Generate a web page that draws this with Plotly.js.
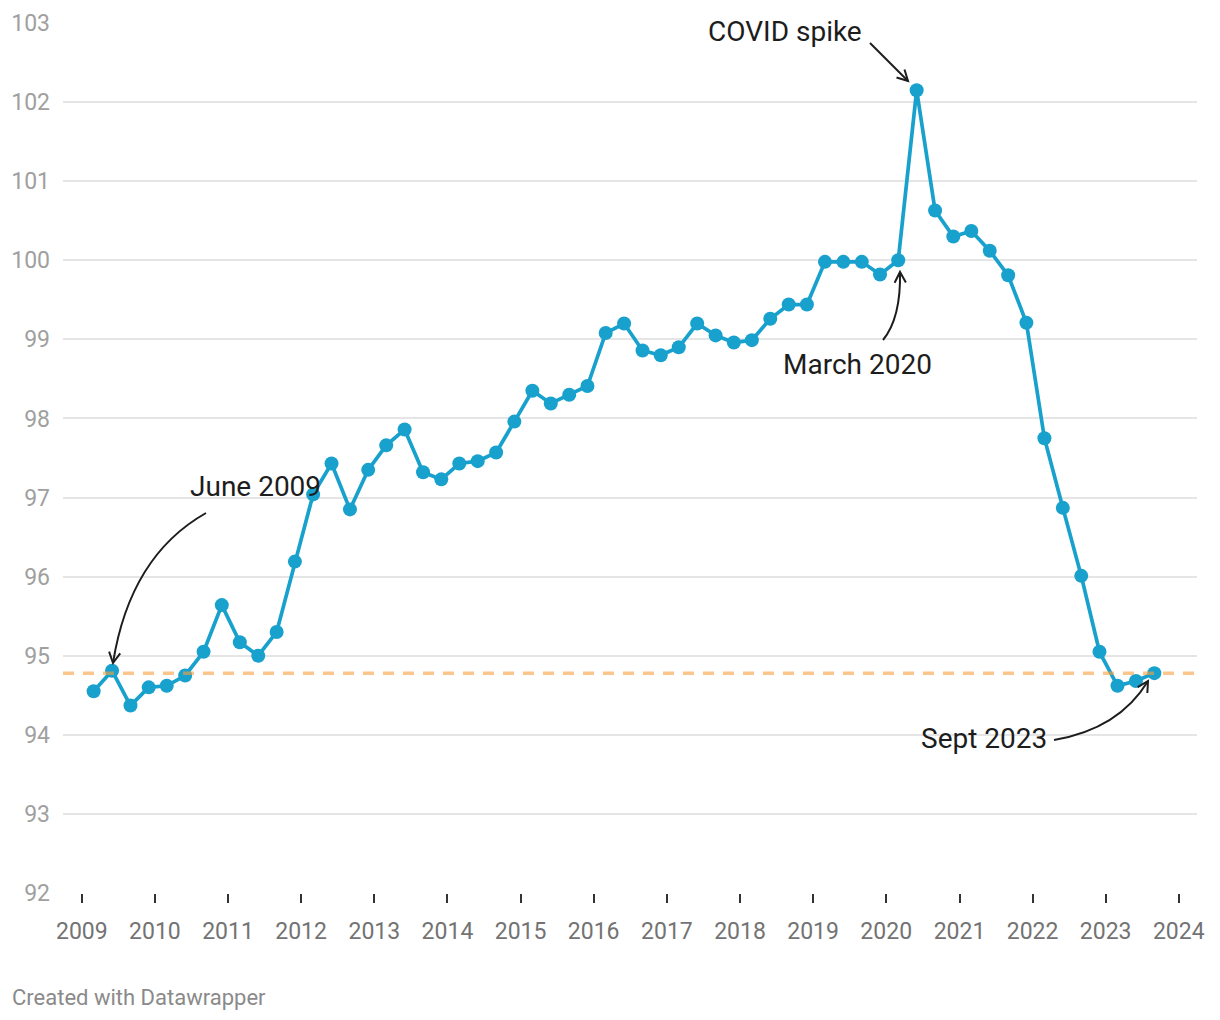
<!DOCTYPE html>
<html><head><meta charset="utf-8">
<script src="https://cdn.plot.ly/plotly-3.0.1.min.js"></script>
<style>html,body{margin:0;padding:0;background:#fff}#chart{width:1220px;height:1020px}</style>
</head><body><div id="chart"></div>
<script>
// ---- Data ----
const quarterDates = [
  '2009-03-01','2009-06-01','2009-09-01','2009-12-01',
  '2010-03-01','2010-06-01','2010-09-01','2010-12-01',
  '2011-03-01','2011-06-01','2011-09-01','2011-12-01',
  '2012-03-01','2012-06-01','2012-09-01','2012-12-01',
  '2013-03-01','2013-06-01','2013-09-01','2013-12-01',
  '2014-03-01','2014-06-01','2014-09-01','2014-12-01',
  '2015-03-01','2015-06-01','2015-09-01','2015-12-01',
  '2016-03-01','2016-06-01','2016-09-01','2016-12-01',
  '2017-03-01','2017-06-01','2017-09-01','2017-12-01',
  '2018-03-01','2018-06-01','2018-09-01','2018-12-01',
  '2019-03-01','2019-06-01','2019-09-01','2019-12-01',
  '2020-03-01','2020-06-01','2020-09-01','2020-12-01',
  '2021-03-01','2021-06-01','2021-09-01','2021-12-01',
  '2022-03-01','2022-06-01','2022-09-01','2022-12-01',
  '2023-03-01','2023-06-01','2023-09-01'
];
const indexValues = [
  94.55, 94.81, 94.37, 94.60,
  94.62, 94.75, 95.05, 95.64,
  95.17, 95.00, 95.30, 96.19,
  97.04, 97.43, 96.85, 97.35,
  97.66, 97.86, 97.32, 97.23,
  97.43, 97.46, 97.57, 97.96,
  98.35, 98.19, 98.30, 98.41,
  99.08, 99.20, 98.86, 98.80,
  98.90, 99.20, 99.05, 98.96,
  98.99, 99.26, 99.44, 99.44,
  99.98, 99.98, 99.98, 99.82,
  100.00, 102.15, 100.63, 100.30,
  100.37, 100.12, 99.81, 99.21,
  97.75, 96.87, 96.01, 95.05,
  94.62, 94.68, 94.78
];
const referenceLevel = 94.78;
const yearTickDates = ['2009-01-01','2010-01-01','2011-01-01','2012-01-01','2013-01-01','2014-01-01','2015-01-01','2016-01-01','2017-01-01','2018-01-01','2019-01-01','2020-01-01','2021-01-01','2022-01-01','2023-01-01','2024-01-01'];
const yearTickLabels = ['2009','2010','2011','2012','2013','2014','2015','2016','2017','2018','2019','2020','2021','2022','2023','2024'];
const yTickValues = [92,93,94,95,96,97,98,99,100,101,102,103];
const annotationTexts = ['COVID spike','March 2020','June 2009','Sept 2023'];
const footerText = 'Created with Datawrapper';

// ---- Layout helpers (pixel -> paper) ----
const W = 1220, H = 1020, ML = 63, MR = 23, MT = 23, MB = 127;
const PW = W - ML - MR, PH = H - MT - MB;
const pxX = x => (x - ML) / PW;
const pxY = y => (H - MB - y) / PH;
const pt = p => pxX(p[0]).toFixed(5) + ',' + pxY(p[1]).toFixed(5);

function arrowShapes(p0, c, p1) {
  const curve = 'M ' + pt(p0) + ' Q ' + pt(c) + ' ' + pt(p1);
  let dx = p1[0] - c[0], dy = p1[1] - c[1];
  const n = Math.hypot(dx, dy); dx /= n; dy /= n;
  const len = 12, th = 28 * Math.PI / 180;
  const rot = (a) => [dx * Math.cos(a) - dy * Math.sin(a), dx * Math.sin(a) + dy * Math.cos(a)];
  const r1 = rot(th), r2 = rot(-th);
  const a1 = [p1[0] - r1[0] * len, p1[1] - r1[1] * len];
  const a2 = [p1[0] - r2[0] * len, p1[1] - r2[1] * len];
  const head = 'M ' + pt(a1) + ' L ' + pt(p1) + ' L ' + pt(a2);
  const base = {type: 'path', xref: 'paper', yref: 'paper', line: {color: '#1d1d1d', width: 2}, layer: 'above'};
  return [Object.assign({path: curve}, base), Object.assign({path: head}, base)];
}

const shapes = [
  {type: 'line', xref: 'paper', x0: 0, x1: 1, yref: 'y', y0: referenceLevel, y1: referenceLevel,
   line: {color: 'rgba(249,160,63,0.6)', width: 3.5, dash: '11px,9px'}, layer: 'above'},
  ...arrowShapes([870, 43], [889, 62], [908, 81]),
  ...arrowShapes([883, 340], [901, 318], [900, 272]),
  ...arrowShapes([206, 513], [130, 556], [113, 663]),
  ...arrowShapes([1054, 740], [1119, 729], [1148, 681])
];

const notePos = [[785, 31], [857.5, 364], [255.5, 486], [984, 738]];
const annotations = annotationTexts.map((t, i) => ({
  text: t, xref: 'paper', yref: 'paper', x: pxX(notePos[i][0]), y: pxY(notePos[i][1]),
  xanchor: 'center', yanchor: 'middle', showarrow: false,
  font: {family: 'Roboto, sans-serif', size: 28, color: '#1d1d1d'}
}));
annotations.push({
  text: footerText, xref: 'paper', yref: 'paper', x: pxX(10), y: pxY(997),
  xanchor: 'left', yanchor: 'middle', showarrow: false,
  font: {family: 'Roboto, sans-serif', size: 22, color: '#8a8a8a'}
});

const trace = {
  type: 'scatter', mode: 'lines+markers', x: quarterDates, y: indexValues,
  line: {color: '#18a1cd', width: 3.7},
  marker: {color: '#18a1cd', size: 14},
  cliponaxis: false, hoverinfo: 'skip'
};

const layout = {
  width: W, height: H,
  margin: {l: ML, r: MR, t: MT, b: MB, pad: 0},
  paper_bgcolor: '#fff', plot_bgcolor: '#fff',
  font: {family: 'Roboto, sans-serif'},
  showlegend: false, hovermode: false,
  xaxis: {
    type: 'date', range: ['2008-09-29', '2024-04-01'],
    tickmode: 'array', tickvals: yearTickDates, ticktext: yearTickLabels,
    ticks: 'outside', ticklen: 9, tickwidth: 2, tickcolor: '#333',
    showgrid: false, zeroline: false, showline: false, ticklabelstandoff: 8,
    tickfont: {size: 23, color: '#737373'}, fixedrange: true
  },
  yaxis: {
    range: [92, 103], tickmode: 'array', tickvals: yTickValues, ticktext: yTickValues.map(String),
    ticks: '', showgrid: true, gridcolor: '#e5e5e5', gridwidth: 2,
    zeroline: false, showline: false, ticklabelstandoff: 12,
    tickfont: {size: 23, color: '#a0a0a0'}, fixedrange: true
  },
  shapes: shapes,
  annotations: annotations
};

Plotly.newPlot('chart', [trace], layout, {displayModeBar: false, staticPlot: true});
</script>
</body></html>
